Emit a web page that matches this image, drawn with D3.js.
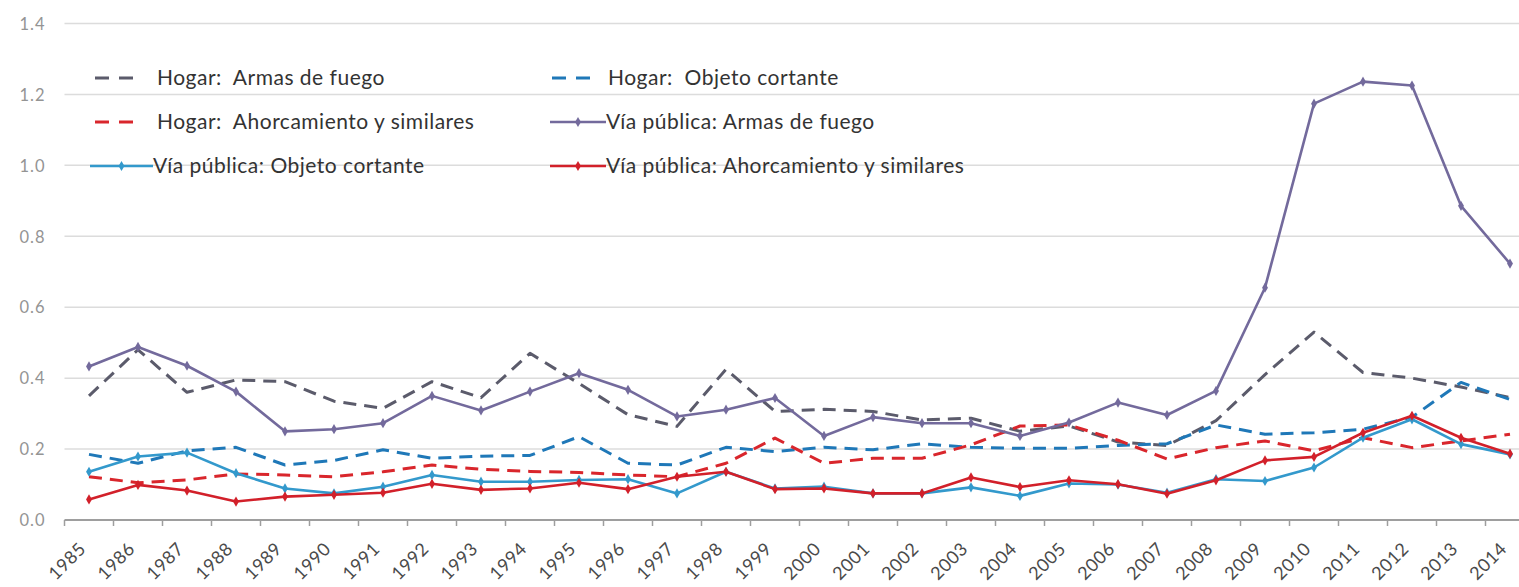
<!DOCTYPE html>
<html>
<head>
<meta charset="utf-8">
<script src="https://cdn.jsdelivr.net/npm/d3@7"></script>
<style>
  html, body { margin: 0; padding: 0; background: #ffffff; }
  svg { display: block; }
  text { white-space: pre; }
</style>
</head>
<body>
<svg id="chart" width="1519" height="587"></svg>
<script>
// ---- DATA ----
const years = ["1985","1986","1987","1988","1989","1990","1991","1992","1993","1994","1995","1996","1997","1998","1999","2000","2001","2002","2003","2004","2005","2006","2007","2008","2009","2010","2011","2012","2013","2014"];
const yTicks = [0, 0.2, 0.4, 0.6, 0.8, 1.0, 1.2, 1.4];

const hogarArmas = [0.35,0.48,0.36,0.395,0.39,0.335,0.315,0.39,0.345,0.47,0.385,0.297,0.264,0.425,0.306,0.312,0.306,0.282,0.287,0.25,0.265,0.22,0.21,0.28,0.41,0.53,0.416,0.40,0.375,0.345];
const hogarObjeto = [0.185,0.16,0.195,0.205,0.155,0.168,0.198,0.174,0.18,0.182,0.235,0.16,0.155,0.205,0.193,0.205,0.198,0.215,0.205,0.202,0.202,0.21,0.215,0.268,0.242,0.246,0.256,0.29,0.388,0.34];
const hogarAhorc = [0.122,0.105,0.113,0.13,0.127,0.122,0.136,0.155,0.143,0.137,0.134,0.127,0.122,0.16,0.231,0.16,0.174,0.174,0.212,0.265,0.268,0.225,0.172,0.204,0.223,0.195,0.232,0.204,0.223,0.242];
const viaArmas = [0.433,0.488,0.435,0.362,0.25,0.256,0.273,0.35,0.309,0.362,0.414,0.367,0.292,0.311,0.344,0.237,0.29,0.273,0.273,0.237,0.275,0.331,0.296,0.364,0.655,1.174,1.236,1.225,0.886,0.723];
const viaObjeto = [0.136,0.179,0.19,0.132,0.089,0.075,0.094,0.127,0.108,0.108,0.113,0.115,0.075,0.136,0.089,0.094,0.075,0.075,0.092,0.068,0.103,0.10,0.077,0.115,0.11,0.148,0.232,0.284,0.214,0.185];
const viaAhorc = [0.058,0.099,0.083,0.052,0.066,0.071,0.077,0.102,0.085,0.089,0.105,0.087,0.122,0.136,0.087,0.089,0.075,0.075,0.12,0.093,0.112,0.101,0.074,0.112,0.168,0.178,0.246,0.294,0.232,0.187];

const seriesNames = ["Hogar:  Armas de fuego","Hogar:  Objeto cortante","Hogar:  Ahorcamiento y similares","Vía pública: Armas de fuego","Vía pública: Objeto cortante","Vía pública: Ahorcamiento y similares"];

const series = [
  {name: seriesNames[0], values: hogarArmas, color: "#5b5b6b", dashed: true,  marker: false},
  {name: seriesNames[1], values: hogarObjeto, color: "#1f78b8", dashed: true,  marker: false},
  {name: seriesNames[2], values: hogarAhorc, color: "#d9262c", dashed: true,  marker: false},
  {name: seriesNames[3], values: viaArmas,   color: "#736a9c", dashed: false, marker: true},
  {name: seriesNames[4], values: viaObjeto,  color: "#3399cc", dashed: false, marker: true},
  {name: seriesNames[5], values: viaAhorc,   color: "#d2202a", dashed: false, marker: true}
];

// ---- LAYOUT ----
const svg = d3.select("#chart");
const W = 1519, H = 587;
const plotLeft = 64.5, plotRight = 1534.5, plotTop = 23.5, plotBottom = 520;

const x = d3.scalePoint().domain(years).range([plotLeft, plotRight]).padding(0.5);
const step = x.step();
const y = d3.scaleLinear().domain([0, 1.4]).range([plotBottom, plotTop]);

const font = "Lato, 'Open Sans', sans-serif";

// gridlines
svg.append("g").selectAll("line").data(yTicks.filter(d => d > 0)).join("line")
  .attr("x1", plotLeft).attr("x2", W)
  .attr("y1", d => y(d)).attr("y2", d => y(d))
  .attr("stroke", "#dcdcdc").attr("stroke-width", 1.5);

// y axis labels
const yAxis = d3.axisLeft(y).tickValues(yTicks).tickFormat(d3.format(".1f")).tickSize(0).tickPadding(0);
const gy = svg.append("g").attr("transform", `translate(${plotLeft - 19},0)`).call(yAxis);
gy.select(".domain").remove();
gy.selectAll("text").attr("font-family", font).attr("font-size", 16.5).attr("letter-spacing", 1)
  .attr("fill", "#949494").attr("dy", "0.35em");

// x axis
const gx = svg.append("g").attr("transform", `translate(0,${plotBottom})`);
gx.append("line").attr("x1", plotLeft).attr("x2", W).attr("y1", 0).attr("y2", 0)
  .attr("stroke", "#9e9e9e").attr("stroke-width", 2);
const boundaries = years.map(yr => x(yr) - step / 2);
gx.selectAll("line.tick").data(boundaries).join("line").attr("class", "tick")
  .attr("x1", d => d).attr("x2", d => d).attr("y1", 0).attr("y2", 6)
  .attr("stroke", "#9e9e9e").attr("stroke-width", 1.5);
gx.selectAll("text").data(years).join("text")
  .attr("transform", d => `translate(${x(d) - 2},${30}) rotate(-45)`)
  .attr("text-anchor", "end")
  .attr("font-family", font).attr("font-size", 18).attr("letter-spacing", 0.5).attr("fill", "#4a4a4a")
  .text(d => d);

// lines
const lineGen = d3.line().x((d, i) => x(years[i])).y(d => y(d));
const gl = svg.append("g");
series.forEach(s => {
  gl.append("path").datum(s.values)
    .attr("d", lineGen)
    .attr("fill", "none")
    .attr("stroke", s.color)
    .attr("stroke-width", s.dashed ? 3 : 2.6)
    .attr("stroke-dasharray", s.dashed ? "13,8" : null)
    .attr("stroke-linejoin", "round");
  if (s.marker) {
    gl.append("g").selectAll("path").data(s.values).join("path")
      .attr("d", d3.symbol().type(d3.symbolDiamond).size(30))
      .attr("transform", (d, i) => `translate(${x(years[i])},${y(d)})`)
      .attr("fill", s.color);
  }
});

// legend
const legendPos = [
  {lx: 95, tx: 157, y: 78},
  {lx: 552, tx: 608, y: 78},
  {lx: 95, tx: 157, y: 122},
  {lx: 550, tx: 606, y: 122},
  {lx: 90, tx: 153, y: 166},
  {lx: 550, tx: 606, y: 166}
];
const gLeg = svg.append("g");
series.forEach((s, i) => {
  const p = legendPos[i];
  if (s.dashed) {
    gLeg.append("line").attr("x1", p.lx).attr("x2", p.lx + 48).attr("y1", p.y).attr("y2", p.y)
      .attr("stroke", s.color).attr("stroke-width", 3).attr("stroke-dasharray", "14,10");
  } else {
    gLeg.append("line").attr("x1", p.lx).attr("x2", p.tx).attr("y1", p.y).attr("y2", p.y)
      .attr("stroke", s.color).attr("stroke-width", 2.6);
    gLeg.append("path").attr("d", d3.symbol().type(d3.symbolDiamond).size(30)())
      .attr("transform", `translate(${(p.lx + p.tx) / 2},${p.y})`).attr("fill", s.color);
  }
  gLeg.append("text").attr("x", p.tx).attr("y", p.y).attr("dy", "0.35em")
    .attr("font-family", font).attr("font-size", 21).attr("letter-spacing", 0.5).attr("fill", "#333333")
    .text(s.name);
});
</script>
</body>
</html>
